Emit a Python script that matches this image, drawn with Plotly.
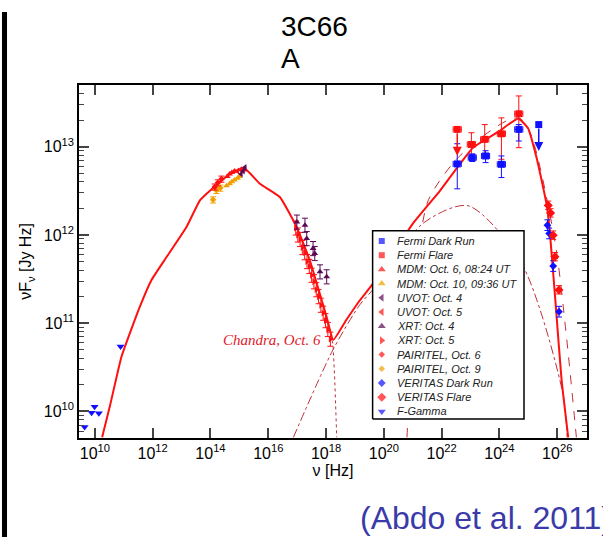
import math
import plotly.graph_objects as go

# ---------------- model curves ----------------
total_nu = [1.78e10, 3.31e10, 8.32e10, 3.63e11, 9.12e11, 3.02e12, 1.48e13, 4.27e13, 9.55e13,
            4.68e14, 1.55e15, 5.13e15, 2.51e16, 9.55e16, 2.75e17, 1.05e18, 1.78e18, 5.13e18,
            1.48e19, 4.27e19, 1.02e21, 8.71e21, 1.23e23, 1.02e24, 4.47e24, 9.77e24, 1.91e25,
            4.27e25, 5.50e25, 9.33e25, 1.41e26, 2.40e26]
total_F = [5.09e9, 1.15e10, 4.17e10, 1.55e11, 3.09e11, 5.62e11, 1.23e12, 2.45e12, 3.16e12,
           4.90e12, 5.62e12, 3.80e12, 2.69e12, 1.23e12, 5.13e11, 1.17e11, 6.46e10, 1.10e11,
           1.82e11, 2.82e11, 1.35e12, 3.16e12, 9.77e12, 1.51e13, 2.09e13, 1.62e13, 7.59e12,
           2.24e12, 1.12e12, 1.29e11, 2.29e10, 5.09e9]

sync_nu = [1.05e18, 1.74e18, 2.00e18, 2.34e18]
sync_F = [1.17e11, 5.75e10, 2.29e10, 5.09e9]

ssc_nu = [7.41e16, 1.74e18, 1.48e19, 4.17e19, 2.24e21, 8.13e22, 5.75e24, 1.55e26, 2.2e26]
ssc_F = [5.09e9, 5.0e10, 1.62e11, 2.40e11, 1.35e12, 2.14e12, 4.79e11, 1.62e10, 5.09e9]

ec_nu = [6.31e20, 7.6e20, 1.0e21, 1.6e21, 3.5e21, 3.0e22, 3.0e23, 2.0e24, 5.0e24, 1.2e25, 8.3e25, 2.0e26, 4.6e26]
ec_F = [5.09e9, 2.0e10, 1.6e11, 7.0e11, 2.5e12, 7.0e12, 1.35e13, 2.0e13, 2.1e13, 1.4e13, 8.5e11, 8.0e10, 5.09e9]

# ---------------- data points ----------------
fgam_nu = [4.41e9, 7.69e9, 9.77e9, 1.37e10, 7.74e10]
fgam_F = [6.65e9, 9.66e9, 1.13e10, 9.51e9, 5.46e10]

pai6_nu = [1.40e14, 1.80e14, 2.40e14]
pai6_F = [3.5e12, 3.9e12, 4.3e12]
pai9_nu = [1.23e14, 1.60e14, 2.20e14]
pai9_F = [2.5e12, 3.2e12, 3.4e12]

mdm6_nu = [3.8e14, 4.6e14, 5.5e14, 6.8e14]
mdm6_F = [4.6e12, 4.9e12, 5.1e12, 5.3e12]
mdm10_nu = [3.6e14, 4.6e14, 5.5e14, 6.8e14, 8.6e14, 1.0e15]
mdm10_F = [3.6e12, 3.8e12, 4.0e12, 4.2e12, 4.4e12, 4.6e12]

uvot5_nu = [8.6e14, 1.1e15, 1.35e15, 1.55e15]
uvot5_F = [5.3e12, 5.5e12, 5.5e12, 5.6e12]
uvot4_nu = [1.15e15, 1.35e15, 1.55e15]
uvot4_F = [4.9e12, 5.3e12, 5.8e12]

xrt4_nu = [9.77e16, 1.86e17, 2.14e17, 3.55e17, 4.07e17, 6.17e17, 1.05e18]
xrt4_F = [1.40e12, 1.29e12, 9.10e11, 7.02e11, 6.17e11, 3.82e11, 3.36e11]

xrt5_nu = [8.9e16, 1.05e17, 1.26e17, 1.51e17, 1.82e17, 2.19e17, 2.63e17, 3.16e17,
           3.80e17, 4.57e17, 5.50e17, 6.61e17, 7.94e17, 9.55e17, 1.15e18, 1.41e18]
xrt5_F = [1.20e12, 1.00e12, 8.9e11, 7.2e11, 6.3e11, 5.0e11, 4.4e11, 3.5e11,
          2.95e11, 2.4e11, 2.0e11, 1.6e11, 1.3e11, 1.07e11, 8.5e10, 6.6e10]

fflare_nu = [1.07e23, 3.09e23, 1.17e24, 4.68e24]
fflare_F = [1.06e13, 1.21e13, 1.40e13, 2.36e13]
fflare_hi = [1.44e13, 1.78e13, 2.12e13, 3.76e13]
fflare_lo = [7.2e12, 7.85e12, 7.2e12, 9.75e12]
fflare_ul_nu = [3.47e22]
fflare_ul_F = [1.57e13]

fdark_nu = [3.47e22, 1.15e23, 3.31e23, 1.17e24, 4.68e24]
fdark_F = [6.38e12, 7.52e12, 7.85e12, 6.31e12, 1.57e13]
fdark_hi = [1.08e13, 8.3e12, 9.0e12, 7.85e12, 1.78e13]
fdark_lo = [3.33e12, 6.8e12, 6.6e12, 4.47e12, 1.16e13]
fdark_ul_nu = [2.29e25]
fdark_ul_F = [1.78e13]

vflare_nu = [4.90e25, 5.89e25, 7.24e25, 8.32e25, 1.15e26]
vflare_F = [2.16e12, 1.77e12, 9.91e11, 5.65e11, 2.38e11]
vdark_nu = [4.57e25, 5.25e25, 7.24e25, 1.15e26]
vdark_F = [1.29e12, 1.04e12, 4.44e11, 1.35e11]

legend_labels = ["Fermi Dark Run", "Fermi Flare", "MDM: Oct. 6, 08:24 UT", "MDM: Oct. 10, 09:36 UT",
                 "UVOT: Oct. 4", "UVOT: Oct. 5", "XRT: Oct. 4", "XRT: Oct. 5", "PAIRITEL, Oct. 6",
                 "PAIRITEL, Oct. 9", "VERITAS Dark Run", "VERITAS Flare", "F-Gamma"]
legend_symbols = ["square", "square", "triangle-up", "triangle-up", "triangle-left", "triangle-left",
                  "triangle-up", "triangle-right", "diamond", "diamond", "diamond", "diamond", "triangle-down"]

x_ticks = [1e10, 1e12, 1e14, 1e16, 1e18, 1e20, 1e22, 1e24, 1e26]
x_tick_text = ["10<sup>10</sup>", "10<sup>12</sup>", "10<sup>14</sup>", "10<sup>16</sup>", "10<sup>18</sup>",
               "10<sup>20</sup>", "10<sup>22</sup>", "10<sup>24</sup>", "10<sup>26</sup>"]
y_ticks = [1e10, 1e11, 1e12, 1e13]
y_tick_text = ["10<sup>10</sup>", "10<sup>11</sup>", "10<sup>12</sup>", "10<sup>13</sup>"]

RED = "#ff1010"
BLUE = "#1010ff"
ORANGE = "#f0a000"
PURPLE = "#5a0a55"
MODEL = "#c0303a"
legend_colors = [BLUE, RED, RED, ORANGE, PURPLE, RED, PURPLE, RED, RED, ORANGE, BLUE, RED, BLUE]
legend_sizes = [6, 6, 7, 7, 7, 7, 7, 7, 5, 5, 6, 7, 7]

fig = go.Figure()

# model lines
fig.add_trace(go.Scatter(x=ssc_nu, y=ssc_F, mode="lines", line=dict(color=MODEL, width=1, dash="dashdot", shape="spline", smoothing=0.8)))
fig.add_trace(go.Scatter(x=ec_nu, y=ec_F, mode="lines", line=dict(color=MODEL, width=1, dash="dash", shape="spline", smoothing=0.8)))
fig.add_trace(go.Scatter(x=sync_nu, y=sync_F, mode="lines", line=dict(color=MODEL, width=1, dash="dot")))
fig.add_trace(go.Scatter(x=total_nu, y=total_F, mode="lines", line=dict(color=RED, width=2, shape="spline", smoothing=0.4)))


def pts(x, y, sym, color, size, ey=None, eyl=None, ex=None, exl=None):
    kw = {}
    if ey is not None:
        kw["error_y"] = dict(type="data", symmetric=False, array=ey, arrayminus=eyl, color=color, thickness=1, width=3)
    if ex is not None:
        kw["error_x"] = dict(type="data", symmetric=False, array=ex, arrayminus=exl, color=color, thickness=1, width=3)
    fig.add_trace(go.Scatter(x=x, y=y, mode="markers", marker=dict(symbol=sym, color=color, size=size, line=dict(width=0)), **kw))


pts(fgam_nu, fgam_F, "triangle-down", BLUE, 7)
pts(pai9_nu, pai9_F, "diamond", ORANGE, 5, [v * 0.08 for v in pai9_F], [v * 0.08 for v in pai9_F])
pts(mdm10_nu, mdm10_F, "triangle-up", ORANGE, 6)
pts(pai6_nu, pai6_F, "diamond", RED, 5, [v * 0.08 for v in pai6_F], [v * 0.08 for v in pai6_F])
pts(mdm6_nu, mdm6_F, "triangle-up", RED, 6)
pts(uvot5_nu, uvot5_F, "triangle-left", RED, 6)
pts(uvot4_nu, uvot4_F, "triangle-left", PURPLE, 6)
pts(xrt5_nu, xrt5_F, "triangle-right", RED, 6, [v * 0.2 for v in xrt5_F], [v * 0.17 for v in xrt5_F])
pts(xrt4_nu, xrt4_F, "triangle-up", PURPLE, 6, [v * 0.2 for v in xrt4_F], [v * 0.17 for v in xrt4_F])

pts(fflare_nu, fflare_F, "square", RED, 7,
    [h - v for h, v in zip(fflare_hi, fflare_F)], [v - l for l, v in zip(fflare_lo, fflare_F)],
    [v * 0.38 for v in fflare_nu], [v * 0.28 for v in fflare_nu])
pts(fdark_nu, fdark_F, "square", BLUE, 7,
    [h - v for h, v in zip(fdark_hi, fdark_F)], [v - l for l, v in zip(fdark_lo, fdark_F)],
    [v * 0.38 for v in fdark_nu], [v * 0.28 for v in fdark_nu])
pts(fflare_ul_nu, fflare_ul_F, "square", RED, 7, None, None, [v * 0.38 for v in fflare_ul_nu], [v * 0.28 for v in fflare_ul_nu])
pts(fdark_ul_nu, fdark_ul_F, "square", BLUE, 7)
pts(vdark_nu, vdark_F, "diamond", BLUE, 6, [v * 0.15 for v in vdark_F], [v * 0.13 for v in vdark_F])
pts(vflare_nu, vflare_F, "diamond", RED, 7, [v * 0.12 for v in vflare_F], [v * 0.1 for v in vflare_F])

# ---- manual legend on an overlay (0..1) frame ----
bx0, bx1, by0, by1 = 0.578, 0.876, 0.054, 0.587
fig.add_trace(go.Scatter(x=[bx0, bx1, bx1, bx0, bx0], y=[by0, by0, by1, by1, by0], mode="lines",
                         fill="toself", fillcolor="white", line=dict(color="black", width=1.5),
                         xaxis="x2", yaxis="y2", hoverinfo="skip"))
row_y = [0.5581 - 0.04023 * i for i in range(len(legend_labels))]
fig.add_trace(go.Scatter(x=[0.596] * len(legend_labels), y=row_y, mode="markers",
                         marker=dict(symbol=legend_symbols, color=legend_colors, size=legend_sizes, line=dict(width=0)),
                         xaxis="x2", yaxis="y2", hoverinfo="skip"))

annotations = []
for lab, yy in zip(legend_labels, row_y):
    annotations.append(dict(x=0.622, y=yy, xref="x2", yref="y2", text="<i>" + lab + "</i>", showarrow=False,
                            xanchor="left", yanchor="middle", font=dict(family="Liberation Sans", size=11, color="#222222")))

# upper-limit arrows
for nu, F, col in [(fflare_ul_nu[0], fflare_ul_F[0], RED), (fdark_ul_nu[0], fdark_ul_F[0], BLUE)]:
    annotations.append(dict(x=math.log10(nu), y=math.log10(F) - 0.30, xref="x", yref="y", ax=0, ay=-24,
                            showarrow=True, arrowhead=2, arrowsize=1.2, arrowwidth=1.5, arrowcolor=col, text=""))

annotations.append(dict(x=17.89, y=10.81, xref="x", yref="y", text="<i>Chandra, Oct. 6</i>", showarrow=False,
                        xanchor="right", yanchor="middle", font=dict(family="Liberation Serif", size=15, color="#e0202a")))
annotations.append(dict(x=0.3937, y=1.167, xref="paper", yref="paper", text="3C66", showarrow=False,
                        xanchor="left", yanchor="middle", font=dict(family="Liberation Sans", size=28, color="black")))
annotations.append(dict(x=0.3937, y=1.0737, xref="paper", yref="paper", text="A", showarrow=False,
                        xanchor="left", yanchor="middle", font=dict(family="Liberation Sans", size=28, color="black")))
annotations.append(dict(x=0.549, y=-0.2266, xref="paper", yref="paper", text="(Abdo et al. 2011)", showarrow=False,
                        xanchor="left", yanchor="middle", font=dict(family="Liberation Sans", size=32, color="#3a3aa8")))

minor_y = [m * 10 ** e for e in range(9, 14) for m in range(2, 10)]

fig.update_layout(
    width=603, height=537, margin=dict(l=79, r=16, t=85, b=99),
    paper_bgcolor="white", plot_bgcolor="white", showlegend=False,
    font=dict(family="Liberation Sans", color="black"),
    annotations=annotations,
    shapes=[dict(type="rect", xref="paper", yref="paper", x0=-0.1516, x1=-0.1417, y0=-0.2805, y1=1.2068,
                 fillcolor="black", line=dict(width=0))],
    xaxis=dict(type="log", range=[9.45, 27.03], tickvals=x_ticks, ticktext=x_tick_text,
               ticks="inside", ticklen=10, tickwidth=1.5, mirror="allticks", showline=True, linecolor="black",
               linewidth=1.5, showgrid=False, zeroline=False, tickfont=dict(size=16),
               title=dict(text="ν [Hz]", font=dict(size=16), standoff=2)),
    yaxis=dict(type="log", range=[9.699, 13.699], tickvals=y_ticks, ticktext=y_tick_text,
               ticks="inside", ticklen=10, tickwidth=1.5, mirror="allticks", showline=True, linecolor="black",
               linewidth=1.5, showgrid=False, zeroline=False, tickfont=dict(size=16),
               minor=dict(tickvals=minor_y, ticks="inside", ticklen=5, tickwidth=1, showgrid=False),
               title=dict(text="νF<sub>ν</sub> [Jy Hz]", font=dict(size=16), standoff=8)),
    xaxis2=dict(overlaying="x", range=[0, 1], visible=False, fixedrange=True),
    yaxis2=dict(overlaying="y", range=[0, 1], visible=False, fixedrange=True),
)

fig.write_html("out.html")
